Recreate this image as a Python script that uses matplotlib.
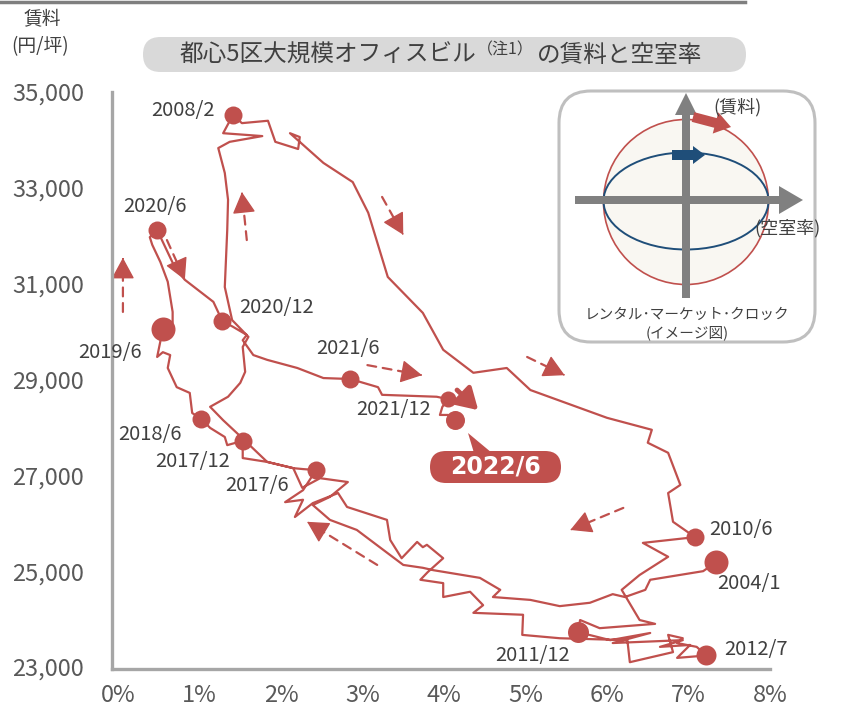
import matplotlib
matplotlib.use('Agg')
import matplotlib.pyplot as plt
from matplotlib.patches import FancyBboxPatch, Circle, Ellipse, FancyArrow, Polygon

plt.rcParams['font.family'] = ['Noto Sans CJK JP', 'DejaVu Sans']

RED = '#C0504D'
BLUE = '#1F4E79'
GREY_TXT = '#404040'

# vacancy rate (%) and rent (yen/tsubo), month by month roughly
seg_2004_2008 = [
    (7.34, 25190), (7.18, 25000), (6.53, 24820), (6.47, 24610), (6.22, 24460),
    (6.07, 24520), (5.79, 24340), (5.42, 24270), (5.06, 24400), (4.60, 24460),
    (4.69, 24610), (4.44, 24860), (3.87, 25020), (3.74, 25070), (3.50, 25130),
    (2.93, 25860), (2.60, 26070), (2.39, 26380), (2.60, 26550), (2.82, 26860),
    (2.48, 26940), (2.26, 26740), (2.15, 27150), (1.83, 27280), (1.46, 27880),
    (1.29, 28150), (1.13, 28430), (1.35, 28640), (1.50, 28930), (1.56, 29160),
    (1.53, 29680), (1.60, 29890), (1.40, 30240), (1.31, 30930), (1.34, 32120),
    (1.35, 32750), (1.31, 33310), (1.23, 33830), (1.37, 33960), (1.77, 34080),
    (1.29, 34140), (1.41, 34520),
]
seg_2008_2010 = [
    (1.41, 34520), (1.52, 34350), (1.84, 34400), (1.93, 33960), (2.21, 33810),
    (2.23, 34060), (2.11, 34140), (2.52, 33520), (2.88, 33120), (3.07, 32480),
    (3.31, 31140), (3.74, 30390), (3.99, 29620), (4.36, 29140), (4.77, 29240),
    (5.06, 28780), (6.00, 28200), (6.55, 27950), (6.50, 27680), (6.75, 27470),
    (6.90, 26800), (6.75, 26630), (6.81, 26030), (7.08, 25710),
]
seg_2010_2011 = [
    (7.08, 25710), (6.44, 25590), (6.75, 25300), (6.40, 24920), (6.18, 24610),
    (6.40, 23980), (6.59, 23900), (5.91, 23810), (5.67, 23980), (5.64, 23730),
]
seg_2011_2017 = [
    (5.64, 23730), (6.04, 23560), (6.53, 23710), (6.07, 23500), (6.93, 23560),
    (6.65, 23420), (7.02, 23460), (6.86, 23190), (7.22, 23240),
    (7.10, 23420), (6.86, 23500), (6.93, 23600), (6.75, 23670), (6.81, 23310),
    (6.28, 23100), (6.25, 23560), (5.42, 23600), (4.96, 23670), (4.97, 24090),
    (4.36, 24130), (4.48, 24290), (4.32, 24570), (3.99, 24460), (3.99, 24750),
    (3.71, 24820), (3.80, 24980), (3.99, 25270), (3.79, 25550), (3.74, 25500),
    (3.67, 25610), (3.48, 25270), (3.34, 25650), (3.30, 26070), (2.81, 26340),
    (2.70, 26630), (2.39, 26420), (2.17, 26130), (2.27, 26490), (2.05, 26440),
    (2.27, 26690), (2.43, 27110),
]
seg_2017_2022 = [
    (2.43, 27110), (2.27, 27130), (2.15, 27150), (1.83, 27280), (1.53, 27360),
    (1.53, 27720), (1.34, 27630), (1.31, 27800), (1.13, 27990), (1.02, 28180),
    (0.91, 28300), (0.88, 28720), (0.72, 28840), (0.61, 29240), (0.64, 29510),
    (0.55, 29570), (0.48, 29470), (0.55, 30050), (0.67, 30180), (0.67, 30410),
    (0.61, 31040), (0.52, 31450), (0.42, 31810), (0.39, 31970), (0.48, 32120),
    (0.55, 31870), (0.70, 31330), (0.82, 31080), (1.17, 30620), (1.28, 30220),
    (1.41, 30100), (1.58, 29930), (1.53, 29820), (1.66, 29510), (1.83, 29410),
    (2.20, 29240), (2.52, 29030), (2.85, 29010), (3.19, 28840), (3.24, 28680),
    (3.91, 28640), (4.05, 28590), (3.98, 28430), (3.95, 28260), (4.05, 28260),
    (4.13, 28150),
]

dot_labels = ['2004/1', '2008/2', '2010/6', '2011/12', '2012/7', '2017/6', '2017/12',
              '2018/6', '2019/6', '2020/6', '2020/12', '2021/6', '2021/12', '2022/6']
dot_vacancy = [7.34, 1.41, 7.08, 5.64, 7.22, 2.43, 1.53, 1.02, 0.55, 0.48, 1.28, 2.85, 4.05, 4.13]
dot_rent = [25190, 34520, 25710, 23730, 23240, 27110, 27720, 28180, 30050, 32120, 30220, 29010, 28590, 28150]

x_ticks = [0, 1, 2, 3, 4, 5, 6, 7, 8]
y_ticks = [23000, 25000, 27000, 29000, 31000, 33000, 35000]

# direction arrows (dashed), start -> end in data units
trend_arrows = [
    (0.06, 30410, 0.06, 31540),
    (1.58, 31910, 1.52, 32910),
    (0.60, 31910, 0.82, 31080),
    (3.24, 32810, 3.50, 32020),
    (3.06, 29300, 3.73, 29090),
    (5.02, 29470, 5.48, 29090),
    (6.20, 26320, 5.55, 25860),
    (3.18, 25130, 2.32, 26030),
]
latest_arrow = (4.16, 28780, 4.42, 28360)

# label offsets in pixels (dx right, dy down) and marker diameters in pixels
label_offset = {'2004/1': (33, 21), '2008/2': (-50, -4), '2010/6': (46, -8),
                '2011/12': (-45, 23), '2012/7': (50, -6), '2017/6': (-59, 15),
                '2017/12': (-50, 21), '2018/6': (-51, 16), '2019/6': (-53, 23),
                '2020/6': (-2, -23), '2020/12': (54, -14), '2021/6': (-2, -31),
                '2021/12': (-55, 10)}
dot_px = {'2004/1': 24, '2019/6': 24, '2011/12': 21, '2012/7': 20, '2021/12': 16, '2022/6': 19}

W, H = 844, 710
fig = plt.figure(figsize=(W / 100, H / 100), dpi=100)

ax = fig.add_axes([112 / W, 1 - 669 / H, (770 - 112) / W, (669 - 92) / H])
ax.set_xlim(-0.074, 8.0)
ax.set_ylim(22958, 35000)

path = seg_2004_2008 + seg_2008_2010[1:] + seg_2010_2011[1:] + seg_2011_2017[1:] + seg_2017_2022[1:]
vac, rent = zip(*path)
ax.plot(vac, rent, color=RED, lw=1.6, zorder=3)

for lab, xv, yv in zip(dot_labels, dot_vacancy, dot_rent):
    ax.plot(xv, yv, 'o', color=RED, ms=dot_px.get(lab, 18) * 0.72, mec='none', zorder=4)
    if lab in label_offset:
        dx, dy = label_offset[lab]
        ax.annotate(lab, (xv, yv), xytext=(dx, -dy), textcoords='offset pixels',
                    ha='center', va='center', fontsize=14.5, color=GREY_TXT)

head = '-|>,head_length=0.7,head_width=0.38'
for x0, y0, x1, y1 in trend_arrows:
    ax.annotate('', xy=(x1, y1), xytext=(x0, y0),
                arrowprops=dict(arrowstyle='-', color=RED, lw=1.6, ls=(0, (4, 3)),
                                shrinkA=0, shrinkB=10),
                zorder=2)
    # solid head on the last bit of the arrow
    ax.annotate('', xy=(x1, y1), xytext=(x1 - (x1 - x0) * 0.02, y1 - (y1 - y0) * 0.02),
                arrowprops=dict(arrowstyle=head, color=RED, lw=1,
                                shrinkA=0, shrinkB=0, mutation_scale=19),
                zorder=2)
x0, y0, x1, y1 = latest_arrow
ax.annotate('', xy=(x1, y1), xytext=(x0, y0),
            arrowprops=dict(arrowstyle='-|>,head_length=0.7,head_width=0.42',
                            color=RED, lw=3.5, shrinkA=0, shrinkB=0, mutation_scale=18),
            zorder=2)

ax.set_xticks(x_ticks)
ax.set_xticklabels([f'{t}%' for t in x_ticks])
ax.set_yticks(y_ticks)
ax.set_yticklabels([f'{t:,}' for t in y_ticks])
ax.tick_params(length=0, labelsize=17, colors='#595959')
ax.tick_params(axis='x', pad=11)
ax.tick_params(axis='y', pad=20)
for s in ['top', 'right']:
    ax.spines[s].set_visible(False)
for s in ['left', 'bottom']:
    ax.spines[s].set_color('#A6A6A6')
    ax.spines[s].set_linewidth(2.4)
ax.patch.set_alpha(0)

# overlay in pixel units for the title and call-outs
ov = fig.add_axes([0, 0, 1, 1])
ov.set_xlim(0, W)
ov.set_ylim(H, 0)
ov.axis('off')
ov.plot([0, 745], [1.5, 1.5], color='#7F7F7F', lw=2.5)
ov.add_patch(FancyBboxPatch((143, 37), 603, 35, boxstyle='round,pad=0,rounding_size=17.5',
                            fc='#D9D9D9', ec='none'))
ov.text(180, 55, '都心5区大規模オフィスビル', fontsize=17, color=GREY_TXT, ha='left', va='center')
ov.text(477, 50, '（注1）', fontsize=11.5, color=GREY_TXT, ha='left', va='center')
ov.text(537, 55, 'の賃料と空室率', fontsize=17, color=GREY_TXT, ha='left', va='center')
ov.text(42, 20, '賃料', fontsize=13.5, color=GREY_TXT, ha='center', va='center')
ov.text(40, 47, '(円/坪)', fontsize=13.5, color=GREY_TXT, ha='center', va='center')

ov.add_patch(Polygon([(468, 433), (474, 453), (492, 453)], closed=True, fc=RED, ec='none'))
ov.add_patch(FancyBboxPatch((430, 451), 131, 32, boxstyle='round,pad=0,rounding_size=16',
                            fc=RED, ec='none'))
ov.text(495, 467, '2022/6', fontsize=17, color='white', fontweight='bold',
        family=['DejaVu Sans'], ha='center', va='center')

# rental market clock inset
ins = fig.add_axes([556 / W, 1 - 345 / H, 262 / W, 257 / H])
ins.set_xlim(0, 262)
ins.set_ylim(257, 0)
ins.axis('off')
ins.add_patch(FancyBboxPatch((3, 3), 256, 251, boxstyle='round,pad=0,rounding_size=32',
                             fc='white', ec='#BFBFBF', lw=2.2))
ins.add_patch(Circle((130, 114), 82.5, fc='#F9F7F2', ec=RED, lw=1.2))
ins.add_patch(Ellipse((130, 113), 165, 97, fill=False, ec=BLUE, lw=1.4))
ins.add_patch(FancyArrow(130, 210, 0, -205, width=8, head_width=22, head_length=22,
                         length_includes_head=True, fc='#808080', ec='none'))
ins.add_patch(FancyArrow(19, 112, 228, 0, width=8, head_width=28, head_length=24,
                         length_includes_head=True, fc='#808080', ec='none'))
ins.add_patch(FancyArrow(137, 29, 38, 10, width=10, head_width=22, head_length=16,
                         length_includes_head=True, fc=RED, ec='none'))
ins.add_patch(FancyArrow(116, 67, 33, 0, width=10, head_width=18, head_length=12,
                         length_includes_head=True, fc=BLUE, ec='none'))
ins.text(181, 19, '(賃料)', fontsize=13, color=GREY_TXT, ha='center', va='center')
ins.text(231, 140, '(空室率)', fontsize=13, color=GREY_TXT, ha='center', va='center')
ins.text(131, 227, 'レンタル･マーケット･クロック', fontsize=10.5, color=GREY_TXT, ha='center', va='center')
ins.text(131, 245, '(イメージ図)', fontsize=10.5, color=GREY_TXT, ha='center', va='center')

fig.savefig('out.png', dpi=100)
